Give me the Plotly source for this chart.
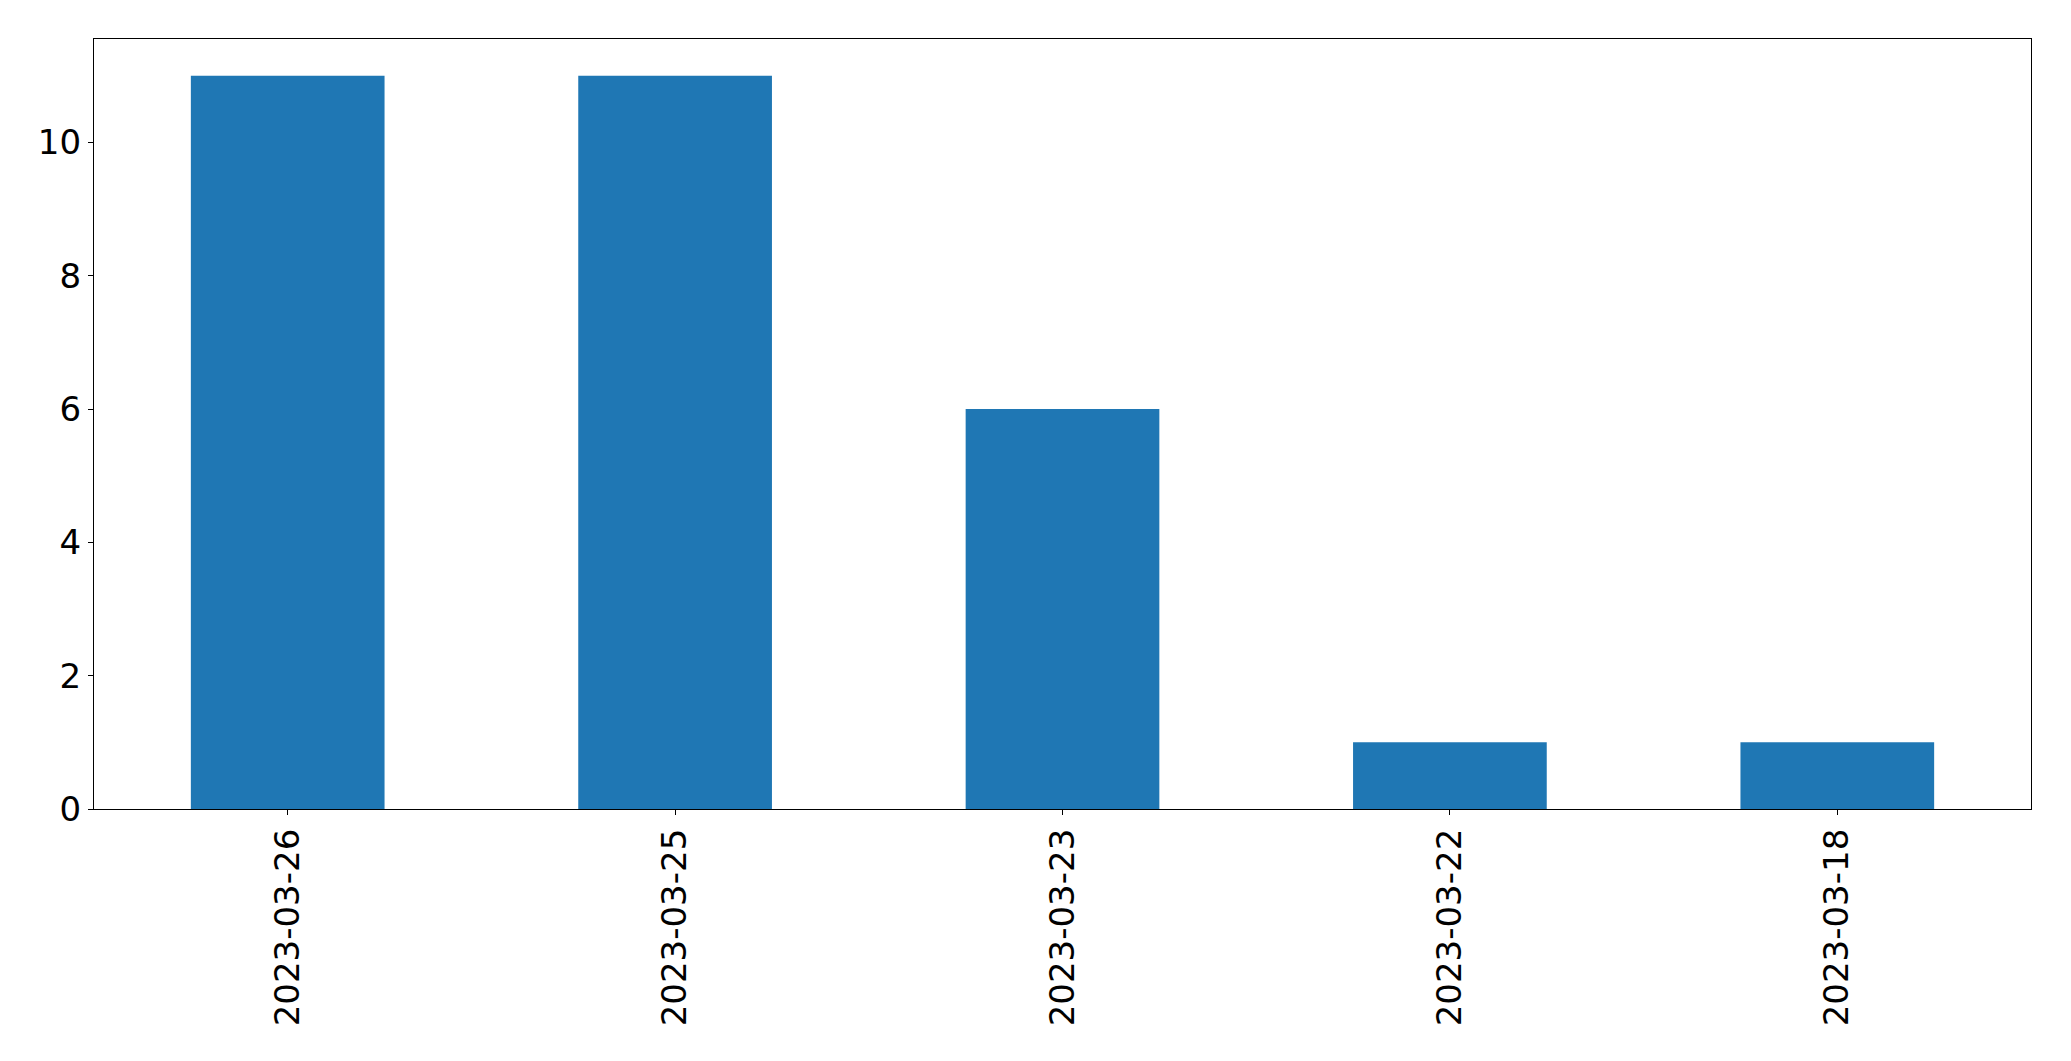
import plotly.graph_objects as go

categories = ["2023-03-26", "2023-03-25", "2023-03-23", "2023-03-22", "2023-03-18"]
values = [11, 11, 6, 1, 1]
y_ticks = [0, 2, 4, 6, 8, 10]

fig = go.Figure(go.Bar(x=categories, y=values, width=0.5, marker_color="#1f77b4",
                       marker_line_width=0))

# page body has an 8px default margin, so offsets compensate for it
fig.update_layout(
    width=2071, height=1061,
    margin=dict(l=86, r=48, t=31, b=260),
    paper_bgcolor="white", plot_bgcolor="white",
    font=dict(family="DejaVu Sans", size=34, color="black"),
    showlegend=False,
    bargap=0.5,
)
fig.update_xaxes(type="category", range=[-0.5, 4.5], tickangle=-90, automargin=False,
                 showline=True, linecolor="black", linewidth=1.3, mirror=True,
                 ticks="outside", ticklen=5, tickcolor="black", showgrid=False,
                 tickfont=dict(size=34))
fig.update_yaxes(range=[0, 11.55], tickvals=y_ticks, automargin=False,
                 showline=True, linecolor="black", linewidth=1.3, mirror=True,
                 ticks="outside", ticklen=5, tickcolor="black", showgrid=False,
                 zeroline=False, tickfont=dict(size=34))

fig.write_html("out.html")
